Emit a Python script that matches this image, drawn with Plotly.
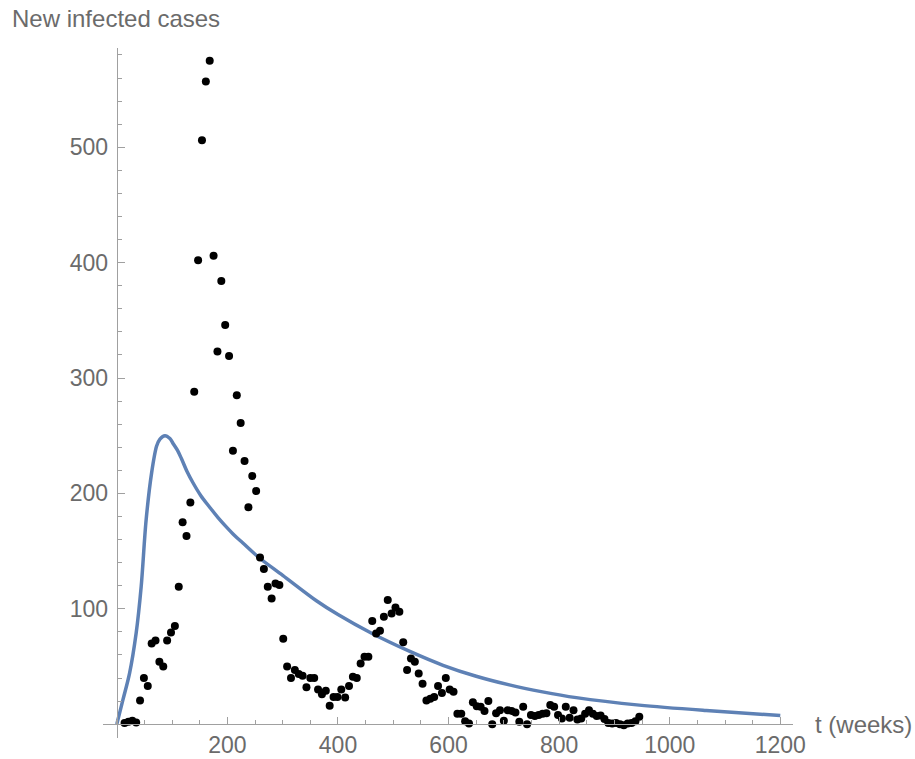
import plotly.graph_objects as go

obs_t = [14, 21, 28, 35, 42, 49, 56, 63, 70, 77, 84, 91, 98, 105, 112, 119, 126, 133, 140,
         147, 154, 161, 168, 175, 182, 189, 196, 203, 210, 217, 224, 231, 238, 245, 252,
         259, 266, 273, 280, 287, 294, 301, 308, 315, 322, 329, 336, 343, 350, 357, 364,
         371, 378, 385, 392, 399, 406, 413, 420, 427, 434, 441, 448, 455, 462, 469, 476,
         483, 490, 497, 504, 511, 518, 525, 532, 539, 546, 553, 560, 567, 574, 581, 588,
         595, 602, 609, 616, 623, 630, 637, 644, 651, 658, 665, 672, 679, 686, 693, 700,
         707, 714, 721, 728, 735, 742, 749, 756, 763, 770, 777, 784, 791, 798, 805, 812,
         819, 826, 833, 840, 847, 854, 861, 868, 875, 882, 889, 896, 903, 910, 917, 924,
         931, 938, 945]
obs_y = [1, 2, 3, 1.5, 20.5, 40, 33, 70, 72.5, 54, 50, 72.5, 79.5, 85, 119, 175, 163, 192, 288,
         402, 506, 557, 575, 406, 323, 384, 346, 319, 237, 285, 261, 228, 188, 215, 202,
         144.5, 134.5, 119, 109, 122, 120.5, 74, 50, 40, 47, 43.5, 42, 32, 40, 40, 30,
         26, 29, 16, 23.5, 23.5, 30, 23, 33, 41, 40, 52.5, 58.5, 58.5, 89.5, 78.5, 81,
         93, 107.5, 96, 101, 97.5, 71, 47, 57, 54, 44, 35, 20.5, 22, 23.5, 33, 27,
         40, 30, 28, 9, 9, 2.5, 0.5, 19, 15.5, 15, 11.5, 20, 0, 9.5, 12, 3,
         12, 11.5, 10, 2, 15, 0, 8, 7, 8, 9, 9.5, 16.5, 15, 8, 5, 15,
         5.5, 12, 4, 5, 9, 12, 9, 7, 7.5, 4.5, 1, 0.5, 1, 0, -1, 0.5,
         1, 2.5, 6.5]

# Model curve
curve_t = [0, 11, 23, 35, 44, 53, 63, 72, 78, 87, 96, 102, 110, 117, 127, 138, 152, 168,
           183, 198, 213, 228, 258, 300, 361, 400, 460, 530, 590, 650, 710, 770, 831,
           945, 1066, 1200]
curve_y = [0, 21, 44, 79, 119, 177, 218, 241, 247, 250, 247.5, 243, 237, 230, 219, 209, 198, 188,
           179, 171, 163.5, 157, 144, 129, 107, 95, 79, 63, 51, 41.5, 34, 28, 23,
           16.5, 11.8, 7.5]

x_tickvals = [200, 400, 600, 800, 1000, 1200]
x_ticktext = ["200", "400", "600", "800", "1000", "1200"]
y_tickvals = [100, 200, 300, 400, 500]
y_ticktext = ["100", "200", "300", "400", "500"]

title_text = "New infected cases"
xlabel_text = "t (weeks)"

AX = "#a0a0a0"
TXT = "#6b6b6b"
FONT = "Liberation Sans, Arial, Helvetica, sans-serif"

x_range = [-25, 1223]
y_range = [-12, 586]

W, H = 915, 759
ML, MT, MB = 103, 48, 21
PW, PH = 690, 690
MR = W - ML - PW

fig = go.Figure()
fig.add_trace(go.Scatter(x=curve_t, y=curve_y, mode="lines",
                         line=dict(color="#5E81B5", width=3.5, shape="spline", smoothing=0.9),
                         hoverinfo="skip", showlegend=False))
fig.add_trace(go.Scatter(x=obs_t, y=obs_y, mode="markers",
                         marker=dict(color="black", size=8),
                         showlegend=False))

x_pos = (0 - y_range[0]) / (y_range[1] - y_range[0])
y_pos = (0 - x_range[0]) / (x_range[1] - x_range[0])

fig.update_layout(
    width=W, height=H,
    margin=dict(l=ML, r=MR, t=MT, b=MB, pad=0),
    paper_bgcolor="white", plot_bgcolor="white",
    font=dict(family=FONT, color=TXT, size=24),
    xaxis=dict(range=x_range, showgrid=False, zeroline=False, automargin=False,
               showline=True, linecolor=AX, linewidth=1.3,
               ticks="inside", ticklen=7, tickwidth=1, tickcolor=AX,
               tickmode="array", tickvals=x_tickvals, ticktext=x_ticktext,
               tickfont=dict(size=23, color=TXT, family=FONT),
               anchor="free", position=x_pos,
               minor=dict(ticks="inside", ticklen=4, tickwidth=1, tickcolor=AX,
                          dtick=50, tick0=0, showgrid=False)),
    yaxis=dict(range=y_range, showgrid=False, zeroline=False, automargin=False,
               showline=True, linecolor=AX, linewidth=1.3,
               ticks="inside", ticklen=7, tickwidth=1, tickcolor=AX,
               tickmode="array", tickvals=y_tickvals, ticktext=y_ticktext,
               tickfont=dict(size=23, color=TXT, family=FONT),
               ticklabelstandoff=4,
               anchor="free", position=y_pos,
               minor=dict(ticks="inside", ticklen=4, tickwidth=1, tickcolor=AX,
                          dtick=20, tick0=0, showgrid=False)),
    annotations=[
        dict(text=title_text, xref="paper", yref="paper",
             x=(10 - ML) / PW, y=(PH + MT - 19) / PH, xanchor="left", yanchor="middle",
             showarrow=False, font=dict(size=24, color=TXT, family=FONT)),
        dict(text=xlabel_text, xref="paper", yref="paper",
             x=(813 - ML) / PW, y=x_pos,
             xanchor="left", yanchor="middle",
             showarrow=False, font=dict(size=24, color=TXT, family=FONT)),
    ],
)

# remove the default 8px page margin so the figure fills the window exactly
fig.write_html("out.html", config={"displayModeBar": False},
               post_script="document.body.style.margin='0';")
